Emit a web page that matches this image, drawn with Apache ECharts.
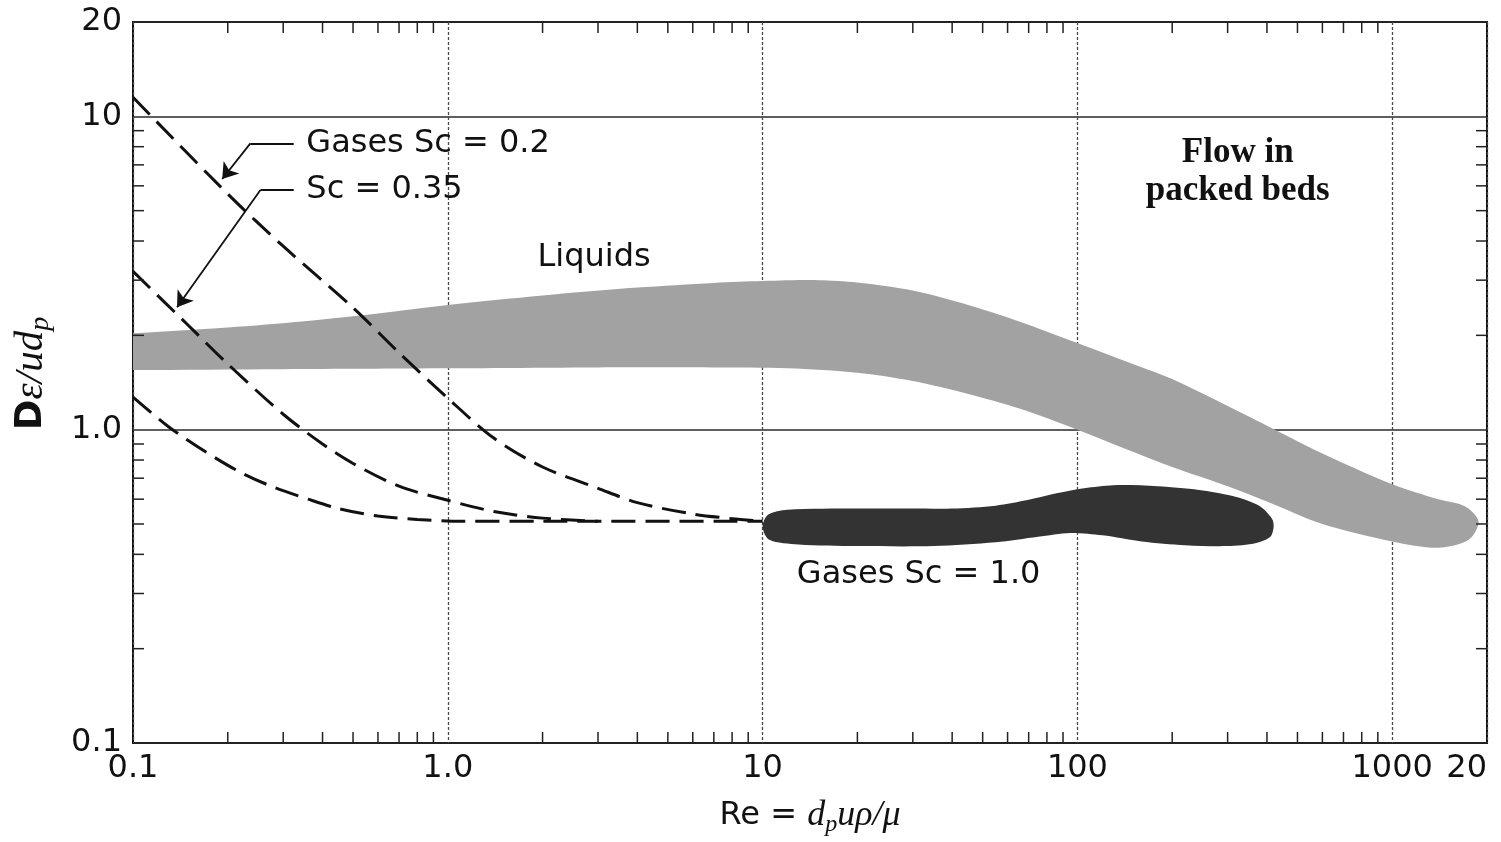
<!DOCTYPE html>
<html>
<head>
<meta charset="utf-8">
<script src="https://cdn.jsdelivr.net/npm/echarts@6/dist/echarts.min.js"></script>
<style>html,body{margin:0;padding:0;background:#fff}#chart{width:1501px;height:842px}</style>
</head>
<body>
<div id="chart"></div>
<script>
// ---------- axis ranges & tick labels ----------
const X_MIN = 0.1, X_MAX = 2000;
const Y_MIN = 0.1, Y_MAX = 20;
const xTickLabels = { '0.1': '0.1', '1': '1.0', '10': '10', '100': '100', '1000': '1000', '2000': '20' };
const yTickLabels = { '0.1': '0.1', '1': '1.0', '10': '10', '20': '20' };
const xMinorTicks = [0.2,0.3,0.4,0.5,0.6,0.7,0.8,0.9, 2,3,4,5,6,7,8,9, 20,30,40,50,60,70,80,90, 200,300,400,500,600,700,800,900];
const yMinorTicks = [0.2,0.3,0.4,0.5,0.6,0.7,0.8,0.9, 2,3,4,5,6,7,8,9];

// ---------- dashed curves [Re, Dε/udp] ----------
const gasesSc02 = [[0.1,11.5],[0.2,5.65],[0.3,3.85],[0.5,2.45],[0.7,1.76],[1.0,1.26],[1.4,0.94],[2,0.76],[3,0.65],[4,0.585],[6,0.538],[8,0.52],[10,0.51]];
const gasesSc035 = [[0.1,3.2],[0.15,2.15],[0.2,1.62],[0.3,1.12],[0.4,0.9],[0.5,0.78],[0.7,0.66],[1.0,0.595],[1.4,0.548],[2.0,0.522],[3,0.51]];
const gasesLow = [[0.1,1.27],[0.13,1.02],[0.17,0.85],[0.22,0.73],[0.28,0.655],[0.36,0.6],[0.45,0.56],[0.6,0.53],[0.8,0.517],[1.1,0.51],[2,0.51],[10,0.51]];

// ---------- Liquids band (upper edge L->R, lower edge R->L; ends beyond left frame are clipped) ----------
const liquidsUpper = [[0.08,2.0],[0.1,2.03],[0.2,2.12],[0.35,2.22],[0.6,2.35],[1,2.5],[2,2.68],[4,2.84],[7,2.94],[10,2.98],[15,3.0],[20,2.95],[30,2.78],[45,2.5],[65,2.22],[100,1.89],[150,1.62],[200,1.45],[300,1.19],[400,1.03],[600,0.84],[1000,0.67],[1400,0.6],[1700,0.57],[1880,0.51]];
const liquidsLower = [[1750,0.445],[1400,0.42],[1000,0.44],[600,0.5],[400,0.59],[300,0.66],[200,0.76],[150,0.85],[100,1.0],[65,1.17],[45,1.3],[30,1.43],[20,1.52],[12,1.57],[7,1.58],[3,1.58],[1,1.57],[0.3,1.56],[0.1,1.55],[0.08,1.55]];

// ---------- Gases Sc = 1.0 band ----------
const gasUpper = [[10.0,0.49],[10.4,0.535],[12,0.555],[20,0.56],[30,0.56],[40,0.56],[55,0.572],[70,0.597],[85,0.625],[105,0.65],[130,0.665],[180,0.66],[250,0.64],[320,0.61],[380,0.57],[415,0.52],[420,0.49]];
const gasLower = [[410,0.455],[370,0.435],[300,0.425],[220,0.428],[160,0.44],[120,0.46],[95,0.468],[75,0.455],[55,0.437],[35,0.425],[20,0.425],[13,0.43],[10.5,0.445]];

// ---------- leader arrows (label end, elbow, tip) ----------
const arrowSc02 = [[0.324,8.2],[0.236,8.2],[0.192,6.31]];
const arrowSc035 = [[0.324,5.82],[0.254,5.82],[0.138,2.46]];

// ---------- annotation texts ----------
const annotationTexts = ['Gases Sc = 0.2', 'Sc = 0.35', 'Liquids', 'Gases Sc = 1.0'];
const annotationPos = [[0.354,8.2],[0.354,5.82],[1.92,3.54],[12.8,0.344]];
const titleText = 'Flow in\npacked beds';
const titlePos = [323, 6.64];

const chart = echarts.init(document.getElementById('chart'), null, { renderer: 'canvas' });

function lookup(map) {
  return function (v) {
    const key = String(+(+v).toPrecision(6));
    return map[key] !== undefined ? map[key] : '';
  };
}

function tickSeries(data, dir) {
  return {
    type: 'custom', silent: true, z: 5, clip: false,
    renderItem: function (params, api) {
      const p = api.coord([api.value(0), api.value(1)]);
      const len = 11;
      let x2 = p[0], y2 = p[1];
      if (dir === 'up') y2 -= len; else if (dir === 'down') y2 += len;
      else if (dir === 'right') x2 += len; else x2 -= len;
      return { type: 'line', shape: { x1: p[0], y1: p[1], x2: x2, y2: y2 }, style: { stroke: '#222', lineWidth: 1.5 } };
    },
    data: data
  };
}

function bandSeries(upper, lower, color, z) {
  return {
    type: 'custom', silent: true, clip: true, z: z,
    data: [upper[1]],
    renderItem: function (params, api) {
      const pts = upper.concat(lower).map(function (d) { return api.coord(d); });
      return { type: 'polygon', shape: { points: pts, smooth: 0.3 }, style: { fill: color } };
    }
  };
}

function dashed(data) {
  return {
    type: 'line', data: data, smooth: 0.3, symbol: 'none', silent: true, z: 4,
    lineStyle: { color: '#111', width: 3, type: [24, 10] }
  };
}

const textFont = { fontFamily: 'DejaVu Sans', fontSize: 32, color: '#111' };

const option = {
  animation: false,
  backgroundColor: '#ffffff',
  grid: { left: 133, right: 14, top: 22, bottom: 99, show: true, borderColor: '#111', borderWidth: 2, containLabel: false },
  xAxis: {
    type: 'log', min: X_MIN, max: X_MAX, logBase: 10,
    axisLine: { show: false }, axisTick: { show: false },
    axisLabel: { formatter: lookup(xTickLabels), margin: 10, fontFamily: 'DejaVu Sans', fontSize: 32, color: '#111', alignMaxLabel: 'right' },
    splitLine: { show: true, lineStyle: { color: '#4a4a4a', width: 1.3, type: [3, 2] } },
    name: '{r|Re = }{i|d}{s|p}{i|uρ/μ}',
    nameLocation: 'middle', nameGap: 52,
    nameTextStyle: {
      rich: {
        r: { fontFamily: 'DejaVu Sans', fontSize: 32, color: '#111', lineHeight: 40 },
        i: { fontFamily: 'Liberation Serif', fontStyle: 'italic', fontSize: 36, color: '#111', lineHeight: 40 },
        s: { fontFamily: 'Liberation Serif', fontStyle: 'italic', fontSize: 24, color: '#111', padding: [18, 0, 0, 0] }
      }
    }
  },
  yAxis: {
    type: 'log', min: Y_MIN, max: Y_MAX, logBase: 10,
    axisLine: { show: false }, axisTick: { show: false },
    axisLabel: { formatter: lookup(yTickLabels), margin: 11, fontFamily: 'DejaVu Sans', fontSize: 32, color: '#111' },
    splitLine: { show: true, lineStyle: { color: '#2a2a2a', width: 1.5, type: 'solid' } },
    name: '{b|D}{i|ε/ud}{s|p}',
    nameLocation: 'middle', nameGap: 78, nameRotate: 90,
    nameTextStyle: {
      padding: [0, 0, 0, 18],
      rich: {
        b: { fontFamily: 'DejaVu Sans', fontWeight: 'bold', fontSize: 37, color: '#111', lineHeight: 42 },
        i: { fontFamily: 'Liberation Serif', fontStyle: 'italic', fontSize: 41, color: '#111', lineHeight: 42 },
        s: { fontFamily: 'Liberation Serif', fontStyle: 'italic', fontSize: 28, color: '#111', padding: [20, 0, 0, 0] }
      }
    }
  },
  series: [
    bandSeries(liquidsUpper, liquidsLower, '#a2a2a2', 2),
    bandSeries(gasUpper, gasLower, '#333333', 3),
    dashed(gasesSc02),
    dashed(gasesSc035),
    dashed(gasesLow),
    {
      type: 'lines', coordinateSystem: 'cartesian2d', silent: true, z: 6,
      symbol: ['none', 'none'],
      lineStyle: { color: '#111', width: 1.8, opacity: 1 },
      data: [arrowSc02, arrowSc035].map(function (a) { return { coords: [a[0], a[1]] }; })
    },
    {
      type: 'lines', coordinateSystem: 'cartesian2d', silent: true, z: 6,
      symbol: ['none', 'arrow'], symbolSize: 15,
      lineStyle: { color: '#111', width: 1.8, opacity: 1 },
      data: [arrowSc02, arrowSc035].map(function (a) { return { coords: [a[1], a[2]] }; })
    },
    tickSeries(xMinorTicks.map(function (v) { return [v, Y_MIN]; }), 'up'),
    tickSeries(xMinorTicks.map(function (v) { return [v, Y_MAX]; }), 'down'),
    tickSeries(yMinorTicks.map(function (v) { return [X_MIN, v]; }), 'right'),
    tickSeries(yMinorTicks.map(function (v) { return [X_MAX, v]; }), 'left'),
    {
      type: 'scatter', symbolSize: 1, silent: true, z: 10,
      itemStyle: { color: 'rgba(0,0,0,0)', opacity: 1 },
      data: annotationTexts.map(function (t, i) {
        return {
          value: annotationPos[i],
          label: Object.assign({ show: true, position: 'right', distance: 0, formatter: t, opacity: 1 }, textFont)
        };
      }).concat([{
        value: titlePos,
        label: { show: true, position: 'inside', formatter: titleText, align: 'center', verticalAlign: 'middle', opacity: 1,
          fontFamily: 'Liberation Serif', fontWeight: 'bold', fontSize: 35, lineHeight: 38, color: '#111' }
      }])
    }
  ]
};
chart.setOption(option);
</script>
</body>
</html>
